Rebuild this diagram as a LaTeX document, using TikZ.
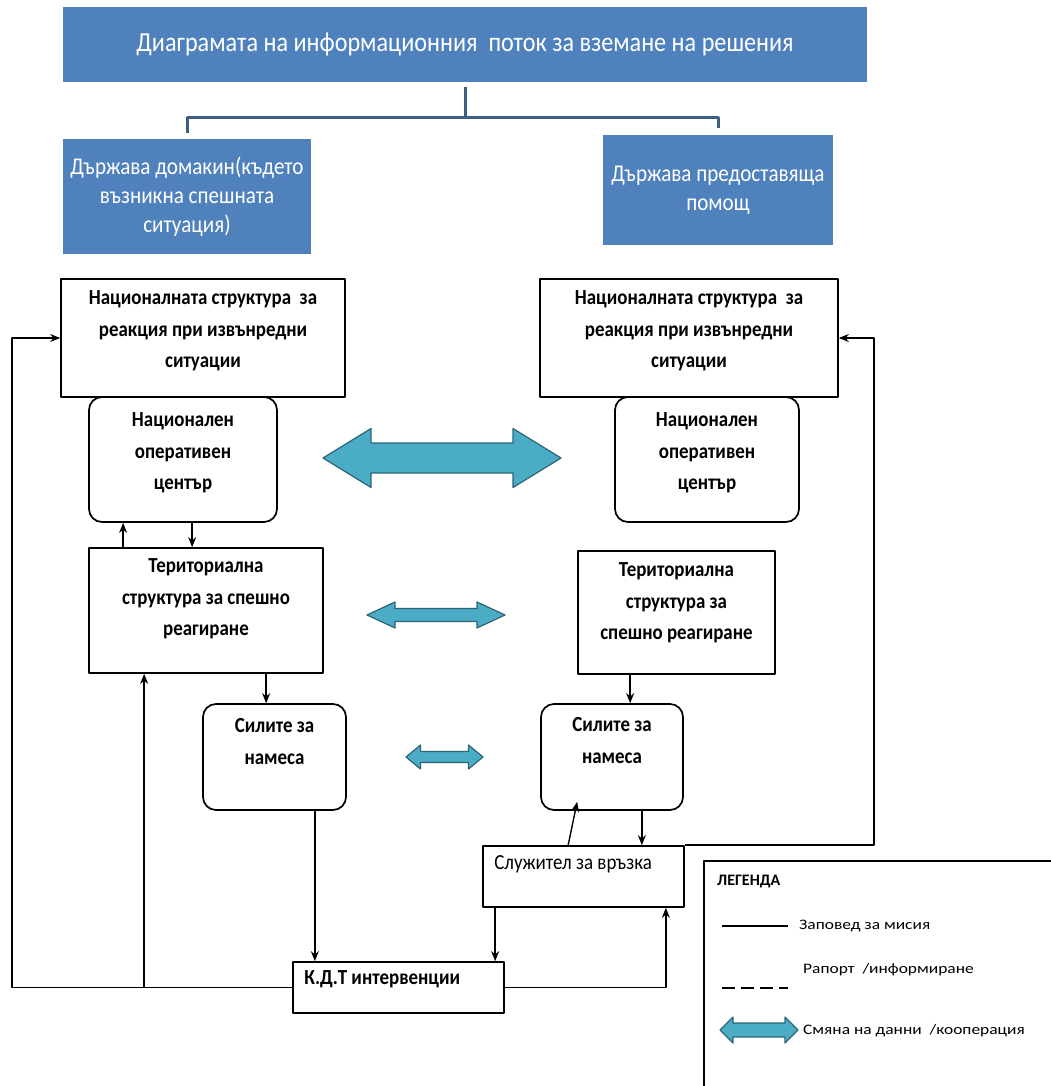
\documentclass[tikz,border=0pt]{standalone}
\usepackage{fontspec}
\setmainfont{Carlito}
\newfontfamily\narrowfont{Carlito}[FakeStretch=0.88]
\newfontfamily\widefont{Carlito}[FakeStretch=1.2]
\usetikzlibrary{positioning,arrows.meta}
\definecolor{hdrblue}{HTML}{4F81BD}
\definecolor{treeblue}{HTML}{3C5F86}
\definecolor{xfill}{HTML}{4BACC6}
\definecolor{xline}{HTML}{2D6577}
% exchange arrow: centre x, centre y, half length, head length, head half width, shaft half width
\newcommand{\xchg}[6]{%
  \draw[xarrow] ({#1-#3},#2) -- ({#1-#3+#4},{#2-#5}) -- ({#1-#3+#4},{#2-#6})
    -- ({#1+#3-#4},{#2-#6}) -- ({#1+#3-#4},{#2-#5}) -- ({#1+#3},#2)
    -- ({#1+#3-#4},{#2+#5}) -- ({#1+#3-#4},{#2+#6}) -- ({#1-#3+#4},{#2+#6})
    -- ({#1-#3+#4},{#2+#5}) -- cycle;}
\begin{document}
\begin{tikzpicture}[x=1pt,y=-1pt,>={Stealth[length=10pt,width=8pt]},line join=round,
  box/.style={draw,line width=1.7pt,inner sep=0pt},
  rbox/.style={box,rounded corners=13pt},
  hdr/.style={fill=hdrblue,text=white,inner sep=0pt,align=center},
  txt/.style={inner sep=0pt,align=center,font=\narrowfont\fontsize{21.5}{31.5}\selectfont\bfseries},
  lgtxt/.style={inner sep=0pt,anchor=west,font=\widefont\fontsize{14.5}{16}\selectfont},
  link/.style={line width=1.4pt},
  tree/.style={treeblue,line width=3pt},
  xarrow/.style={fill=xfill,draw=xline,line width=1.2pt}]
\useasboundingbox (0,0) rectangle (1051,1086);
% headings
\node[hdr,minimum width=804pt,minimum height=75pt,font=\narrowfont\fontsize{27.5}{30}\selectfont] (title) at (465,44.5) {Диаграмата на информационния\ \ поток за вземане на решения};
\node[hdr,minimum width=248pt,minimum height=115pt,font=\narrowfont\fontsize{24}{29}\selectfont] (hostst) at (187,196.5) {Държава домакин(където\\възникна спешната\\ситуация)};
\node[hdr,minimum width=230pt,minimum height=110pt,font=\narrowfont\fontsize{24}{29}\selectfont] (aidst) at (718,190) {Държава предоставяща\\помощ};
\draw[tree] ([yshift=-5pt]title.south) -- ++(0,30) coordinate (tj);
\draw[tree] ([yshift=6pt]hostst.north) |- (tj) -| ([yshift=7pt]aidst.north);
% boxes
\node[box,minimum width=284pt,minimum height=118pt] (natL) at (203,338) {};
\node[box,minimum width=298pt,minimum height=118pt] (natR) at (689,338) {};
\node[rbox,minimum width=188pt,minimum height=125pt] (nocL) at (183,459.5) {};
\node[rbox,minimum width=184pt,minimum height=125pt] (nocR) at (707,459.5) {};
\node[box,minimum width=234pt,minimum height=125pt] (terL) at (206,610.5) {};
\node[box,minimum width=197pt,minimum height=123pt] (terR) at (676.5,612.5) {};
\node[rbox,minimum width=143pt,minimum height=106pt] (forL) at (274.5,757) {};
\node[rbox,minimum width=142pt,minimum height=106pt] (forR) at (612,757) {};
\node[box,minimum width=201pt,minimum height=61pt] (liaison) at (583.5,876.5) {};
\node[box,minimum width=211pt,minimum height=51pt] (kdt) at (398.5,987.5) {};
% texts
\node[txt,below=12.5pt of natL.north] (natLt) {Националната структура\ \ за\\реакция при извънредни\\ситуации};
\node[txt,below=12.5pt of natR.north] (natRt) {Националната структура\ \ за\\реакция при извънредни\\ситуации};
\node[txt,below=16.5pt of nocL.north] (nocLt) {Национален\\оперативен\\център};
\node[txt,below=16.5pt of nocR.north] (nocRt) {Национален\\оперативен\\център};
\node[txt,below=11.5pt of terL.north] (terLt) {Териториална\\структура за спешно\\реагиране};
\node[txt,below=12.5pt of terR.north] (terRt) {Териториална\\структура за\\спешно реагиране};
\node[txt,below=15.5pt of forL.north] (forLt) {Силите за\\намеса};
\node[txt,below=14.5pt of forR.north] (forRt) {Силите за\\намеса};
\node[txt,font=\narrowfont\fontsize{21.5}{24}\selectfont,below right=10.5pt and 12pt of liaison.north west] (liaisont) {Служител за връзка};
\node[txt,below right=9.5pt and 12pt of kdt.north west] (kdtt) {К.Д.Т интервенции};
% exchange arrows
\xchg{442}{458}{119}{48}{29.5}{15}
\xchg{436}{615}{69}{28}{13}{6.5}
\xchg{444.5}{757}{38.5}{14.5}{12}{5.5}
% connectors
\path (nocL.south west) ++(35,0) coordinate (nu) ++(69,0) coordinate (nd)
      (terL.south west) ++(56,0) coordinate (tu) ++(122,0) coordinate (td)
      (forL.south east) ++(-32,0) coordinate (fd)
      (terR.south west) ++(53,0) coordinate (rd)
      (forR.south east) ++(-42,0) coordinate (rf)
      (forR.south west) ++(37,-9) coordinate (rt)
      (liaison.north west) ++(86,0) coordinate (lu)
      (liaison.south west) ++(13,0) coordinate (lk)
      (liaison.south east) ++(-19,0) coordinate (kl)
      (natL.west) ++(-48,0) coordinate (lloop)
      (natR.east) ++(35,0) coordinate (rloop);
\draw[link,->] (nu |- terL.north) -- (nu);
\draw[link,->] (nd) -- (nd |- terL.north);
\draw[link,->] (td) -- (td |- forL.north);
\draw[link,->] (fd) -- (fd |- kdt.north);
\draw[link,->] (tu |- kdt.west) -- (tu);
\draw[link,->] (kdt.west) -| (lloop) -- (natL.west);
\draw[link,->] (rd) -- (rd |- forR.north);
\draw[link,->] (rf) -- (rf |- liaison.north);
\draw[link,->] (lu) -- (rt);
\draw[link,->] (lk) -- (lk |- kdt.north);
\draw[link,->] (kdt.east) -| (kl);
\draw[link,->] (liaison.north east) -| (rloop) -- (natR.east);
% legend
\node[box,anchor=north west,minimum width=360pt,minimum height=240pt] (legend) at (703,860) {};
\node[inner sep=0pt,anchor=west,font=\bfseries\fontsize{16}{16}\selectfont] (legt) at (717,882) {ЛЕГЕНДА};
\draw[link] (722,926) -- ++(66,0) coordinate (solB);
\node[lgtxt,right=11pt of solB] (solt) {Заповед за мисия};
\draw[link,dash pattern=on 13pt off 6pt] (722,988) -- ++(66,0) coordinate (dashB);
\node[lgtxt] (dasht) at (803,970) {Рапорт\ \ /информиране};
\xchg{759}{1030}{39}{13}{13}{7}
\node[lgtxt] (xcht) at (803,1031) {Смяна на данни\ \ /кооперация};
\end{tikzpicture}
\end{document}
